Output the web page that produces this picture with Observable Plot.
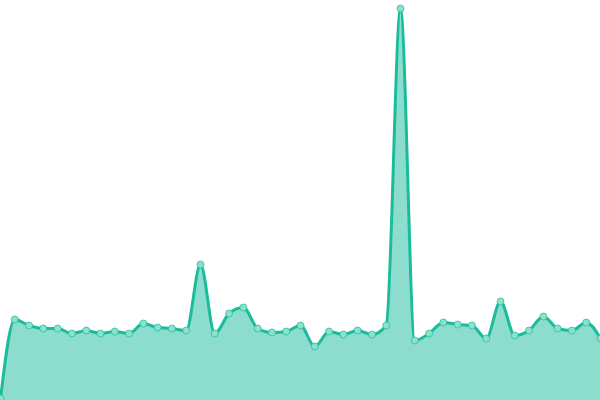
<!DOCTYPE html>
<html>
<head>
<meta charset="utf-8">
<script src="https://cdn.jsdelivr.net/npm/d3@7"></script>
<script src="https://cdn.jsdelivr.net/npm/@observablehq/plot@0.6"></script>
<style>
  html, body { margin: 0; padding: 0; background: #fff; overflow: hidden; }
  #chart svg { display: block; }
</style>
</head>
<body>
<div id="chart"></div>
<script>
const indices = d3.range(43);
const values = [2, 81, 75, 72, 72, 67, 70, 67, 69, 67, 77, 73, 72, 70, 136, 67, 87, 93, 72, 68,
  69, 75, 54, 69, 66, 70, 66, 75, 392, 60, 67, 78, 76, 75, 62, 99, 65, 70, 84, 72, 70, 78, 62];

const data = indices.map((i) => ({x: i, y: values[i]}));

const chart = Plot.plot({
  width: 600,
  height: 400,
  margin: 0,
  x: {domain: [0, 42], axis: null},
  y: {domain: [0, 400], axis: null},
  marks: [
    Plot.areaY(data, {x: "x", y: "y", curve: "monotone-x", fill: "#1abc9c", fillOpacity: 0.5}),
    Plot.lineY(data, {x: "x", y: "y", curve: "monotone-x", stroke: "#1abc9c", strokeWidth: 3}),
    Plot.dot(data, {x: "x", y: "y", r: 3.5, fill: "#8be0ce", stroke: "#1abc9c", strokeWidth: 1, strokeOpacity: 0.7})
  ]
});
document.getElementById("chart").appendChild(chart);
</script>
</body>
</html>
